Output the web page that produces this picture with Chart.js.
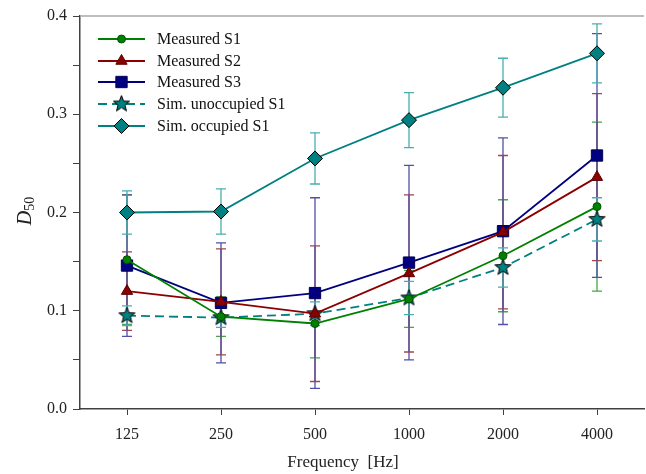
<!DOCTYPE html>
<html>
<head>
<meta charset="utf-8">
<script src="https://cdn.jsdelivr.net/npm/chart.js@4/dist/chart.umd.min.js"></script>
<style>
  html, body { margin: 0; padding: 0; background: #fff; }
  #wrap { width: 646px; height: 474px; position: relative; }
</style>
</head>
<body>
<div id="wrap"><canvas id="chart" width="646" height="474"></canvas></div>
<script>
// values
const frequencies = ["125", "250", "500", "1000", "2000", "4000"];

const measuredS1 = [0.152, 0.094, 0.087, 0.112, 0.156, 0.206];
const measuredS1Err = [0.066, 0.020, 0.035, 0.029, 0.057, 0.086];

const measuredS2 = [0.120, 0.109, 0.097, 0.138, 0.180, 0.236];
const measuredS2Err = [0.040, 0.054, 0.069, 0.080, 0.078, 0.085];

const measuredS3 = [0.146, 0.108, 0.118, 0.149, 0.181, 0.258];
const measuredS3Err = [0.072, 0.061, 0.097, 0.099, 0.095, 0.124];

const simUnoccupied = [0.095, 0.093, 0.097, 0.113, 0.144, 0.193];
const simUnoccupiedErr = [0.010, 0.010, 0.012, 0.017, 0.020, 0.022];

const simOccupied = [0.200, 0.201, 0.255, 0.294, 0.327, 0.362];
const simOccupiedErr = [0.022, 0.023, 0.026, 0.028, 0.030, 0.030];

const serif = "'Liberation Serif', 'Times New Roman', serif";

// 5 point star marker (Chart.js 'star' is a cross, not a filled star)
function makeStar(r, fill) {
  const c = document.createElement("canvas");
  const s = Math.ceil(r * 2 + 4);
  c.width = s; c.height = s;
  const g = c.getContext("2d");
  g.beginPath();
  for (let i = 0; i < 10; i++) {
    const rr = i % 2 === 0 ? r : r * 0.42;
    const a = -Math.PI / 2 + i * Math.PI / 5;
    const px = s / 2 + rr * Math.cos(a), py = s / 2 + rr * Math.sin(a);
    if (i === 0) g.moveTo(px, py); else g.lineTo(px, py);
  }
  g.closePath();
  g.fillStyle = fill;
  g.fill();
  g.lineWidth = 1;
  g.strokeStyle = "#000";
  g.stroke();
  return c;
}
const starImg = makeStar(8.5, "#008080");

const errorBars = {
  id: "errorBars",
  beforeDatasetsDraw(chart) {
    const { ctx, scales: { x, y } } = chart;
    chart.data.datasets.forEach((ds, i) => {
      const meta = chart.getDatasetMeta(i);
      ctx.save();
      ctx.strokeStyle = ds.errorColor;
      ctx.lineWidth = 1.3;
      meta.data.forEach((pt, j) => {
        const v = ds.data[j], e = ds.errors[j];
        const px = pt.x;
        const top = y.getPixelForValue(v + e);
        const bot = y.getPixelForValue(v - e);
        ctx.beginPath();
        ctx.moveTo(px, top); ctx.lineTo(px, bot);
        ctx.moveTo(px - 5, top); ctx.lineTo(px + 5, top);
        ctx.moveTo(px - 5, bot); ctx.lineTo(px + 5, bot);
        ctx.stroke();
      });
      ctx.restore();
    });
  }
};

const extras = {
  id: "extras",
  afterDraw(chart) {
    const { ctx, chartArea: a } = chart;
    ctx.save();
    // top frame line
    ctx.strokeStyle = "#a8a8a8";
    ctx.lineWidth = 1.5;
    ctx.beginPath();
    ctx.moveTo(a.left, a.top); ctx.lineTo(a.right, a.top);
    ctx.stroke();

    // x title
    ctx.fillStyle = "#222";
    ctx.font = "17px " + serif;
    ctx.textAlign = "center";
    ctx.textBaseline = "middle";
    ctx.fillText("Frequency  [Hz]", 343, 463);
    ctx.textAlign = "left";

    // y title: D50 with subscript
    ctx.translate(25, 211);
    ctx.rotate(-Math.PI / 2);
    ctx.textBaseline = "alphabetic";
    ctx.font = "italic 20px " + serif;
    const dW = ctx.measureText("D").width;
    ctx.font = "14px " + serif;
    const sW = ctx.measureText("50").width;
    const x0 = -(dW + sW) / 2;
    ctx.font = "italic 20px " + serif;
    ctx.fillText("D", x0, 6);
    ctx.font = "14px " + serif;
    ctx.fillText("50", x0 + dW, 9);
    ctx.restore();

    // legend inside the plot
    ctx.save();
    const rowY = [39, 61, 82, 104, 126];
    chart.data.datasets.forEach((ds, i) => {
      const yy = rowY[i];
      ctx.strokeStyle = ds.borderColor;
      ctx.lineWidth = 2;
      ctx.setLineDash(ds.borderDash || []);
      ctx.beginPath();
      ctx.moveTo(98, yy); ctx.lineTo(145, yy);
      ctx.stroke();
      ctx.setLineDash([]);
      ctx.fillStyle = ds.pointBackgroundColor;
      ctx.strokeStyle = ds.pointBorderColor;
      ctx.lineWidth = 1;
      Chart.helpers.drawPoint(ctx, {
        pointStyle: ds.pointStyle, radius: ds.pointRadius, rotation: 0, borderWidth: 1
      }, 121.5, yy);
      ctx.fillStyle = "#111";
      ctx.font = "16px " + serif;
      ctx.textBaseline = "middle";
      ctx.fillText(ds.label, 157, yy + 1);
    });
    ctx.restore();
  }
};

function series(label, data, errors, color, errColor, style, radius, border, dash) {
  return {
    label: label,
    data: data,
    errors: errors,
    errorColor: errColor,
    borderColor: color,
    borderWidth: 1.8,
    borderDash: dash,
    pointStyle: style,
    pointRadius: radius,
    pointHoverRadius: radius,
    pointBackgroundColor: color,
    pointBorderColor: border,
    pointBorderWidth: 1,
    tension: 0
  };
}

new Chart(document.getElementById("chart"), {
  type: "line",
  data: {
    labels: frequencies,
    datasets: [
      series("Measured S1", measuredS1, measuredS1Err, "#008000", "#45a845", "circle", 4, "#005000"),
      series("Measured S2", measuredS2, measuredS2Err, "#8b0000", "#a84545", "triangle", 6.5, "#5a0000"),
      series("Measured S3", measuredS3, measuredS3Err, "#000080", "#5050aa", "rect", 8, "#000050"),
      series("Sim. unoccupied S1", simUnoccupied, simUnoccupiedErr, "#008080", "#4aaeae", starImg, 8.5, "#000", [9, 5]),
      series("Sim. occupied S1", simOccupied, simOccupiedErr, "#008080", "#4aaeae", "rectRot", 7.5, "#000")
    ]
  },
  options: {
    responsive: false,
    animation: false,
    layout: { autoPadding: false, padding: { top: 16, right: 2, left: 0, bottom: 0 } },
    plugins: { legend: { display: false }, tooltip: { enabled: false } },
    scales: {
      x: {
        type: "category",
        offset: true,
        afterFit(scale) {
          scale.height = 65;
          scale.paddingLeft = 0;
          scale.paddingRight = 0;
        },
        grid: { offset: false, drawOnChartArea: false, drawTicks: true, tickLength: 6, color: "#404040" },
        border: { color: "#404040", width: 1.5 },
        ticks: { color: "#222", font: { family: serif, size: 16 }, padding: 10 }
      },
      y: {
        min: 0,
        max: 0.4,
        afterFit(scale) { scale.width = 80; },
        grid: { drawOnChartArea: false, drawTicks: true, tickLength: 7, color: "#404040" },
        border: { color: "#404040", width: 1.5 },
        ticks: {
          stepSize: 0.05,
          color: "#222",
          font: { family: serif, size: 16 },
          padding: 6,
          callback(v) {
            const t = Math.round(v * 100);
            return t % 10 === 0 ? (t / 100).toFixed(1) : "";
          }
        }
      }
    }
  },
  plugins: [errorBars, extras]
});
</script>
</body>
</html>
